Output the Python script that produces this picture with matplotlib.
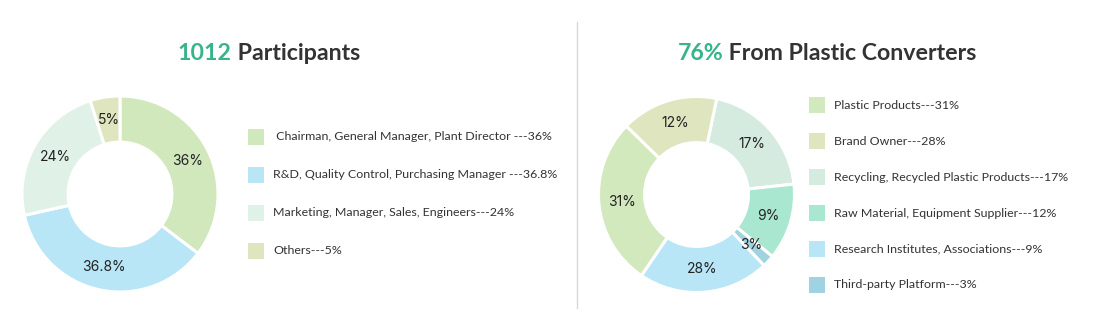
import numpy as np
import matplotlib
matplotlib.use("Agg")
import matplotlib.pyplot as plt
from matplotlib.patches import Rectangle

# ---- data ----
left_title_num = "1012"
left_title_txt = " Participants"
left_values = [36, 36.8, 24, 5]
left_pct = ["36%", "36.8%", "24%", "5%"]
left_colors = ["#d1e8bc", "#b8e6f7", "#e0f1e7", "#dfe5be"]
left_legend = [" Chairman, General Manager, Plant Director ---36%",
               "R&D, Quality Control, Purchasing Manager ---36.8%",
               "Marketing, Manager, Sales, Engineers---24%",
               "Others---5%"]

right_title_num = "76%"
right_title_txt = " From Plastic Converters"
# slice sizes as drawn (clockwise from the top), labels as printed
right_values = [20, 12.6, 2, 21.6, 27.8, 16]
right_pct = ["17%", "9%", "3%", "28%", "31%", "12%"]
right_colors = ["#d5ebdf", "#a9e7d0", "#a0d2df", "#b8e6f7", "#d2e8bd", "#dee5bf"]
right_legend = ["Plastic Products---31%", "Brand Owner---28%",
                "Recycling, Recycled Plastic Products---17%",
                "Raw Material, Equipment Supplier---12%",
                "Research Institutes, Associations---9%",
                "Third-party Platform---3%"]
right_legend_colors = ["#d2e8bd", "#dee5bf", "#d5ebdf", "#a9e7d0", "#b8e6f7", "#a0d2df"]

W, H = 1100, 333
GREEN = "#38b48b"
DARK = "#333333"
fig = plt.figure(figsize=(W / 100, H / 100), dpi=100)
fig.patch.set_facecolor("white")


def donut(cx, cy, r, values, colors, labels, start):
    ax = fig.add_axes([(cx - r) / W, (H - cy - r) / H, 2 * r / W, 2 * r / H])
    wedges, _ = ax.pie(values, colors=colors, startangle=start, counterclock=False,
                       radius=1, wedgeprops=dict(width=0.47, edgecolor="white", linewidth=2.2))
    for w, lab in zip(wedges, labels):
        ang = np.deg2rad((w.theta1 + w.theta2) / 2)
        ax.text(0.765 * np.cos(ang), 0.765 * np.sin(ang), lab, ha="center", va="center",
                fontsize=10, color="#222222", family="Inter")
    ax.set_xlim(-1, 1)
    ax.set_ylim(-1, 1)
    ax.set_aspect("equal")
    ax.axis("off")


def title(cx, cy, num, txt):
    r = fig.canvas.get_renderer()
    kw = dict(fontsize=16.7, fontweight="bold", family="Lato", va="center")
    t1 = fig.text(0, 0, num, color=GREEN, **kw)
    t2 = fig.text(0, 0, txt, color=DARK, **kw)
    w1 = t1.get_window_extent(r).width
    w2 = t2.get_window_extent(r).width
    x0 = cx - (w1 + w2) / 2
    t1.set_position((x0 / W, 1 - cy / H))
    t2.set_position(((x0 + w1) / W, 1 - cy / H))


def legend(x, y0, dy, labels, colors):
    for i, (lab, c) in enumerate(zip(labels, colors)):
        y = y0 + i * dy
        fig.add_artist(Rectangle((x / W, 1 - (y + 8) / H), 16 / W, 16 / H,
                                 transform=fig.transFigure, facecolor=c, edgecolor="none"))
        fig.text((x + 25) / W, 1 - y / H, lab, fontsize=8.9, color=DARK,
                 family="Lato", va="center")


donut(120, 194, 98, left_values, left_colors, left_pct, 90)
donut(696.5, 194.5, 98, right_values, right_colors, right_pct, 78.1)

title(269, 53, left_title_num, left_title_txt)
title(827, 53, right_title_num, right_title_txt)

legend(248, 137, 38, left_legend, left_colors)
legend(809, 105.5, 35.9, right_legend, right_legend_colors)

fig.add_artist(plt.Line2D([577 / W, 577 / W], [1 - 22 / H, 1 - 308 / H],
                          transform=fig.transFigure, color="#d9d9d9", linewidth=1))

fig.savefig("out.png", dpi=100)
